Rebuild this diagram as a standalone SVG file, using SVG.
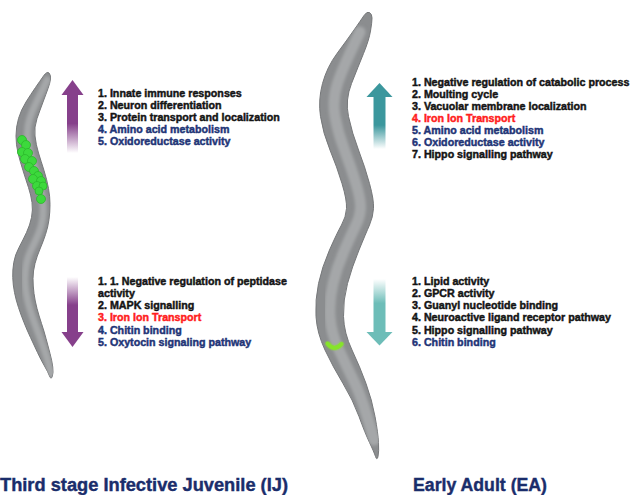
<svg xmlns="http://www.w3.org/2000/svg" width="632" height="495" viewBox="0 0 632 495">
  <style>
    .item { font-family: "Liberation Sans", Arial, sans-serif; font-weight: bold; font-size: 10.7px; stroke-width: 0.45; }
    .k { fill: #141414; stroke: #141414; }
    .b { fill: #1f3577; stroke: #1f3577; }
    .r { fill: #ff1e1e; stroke: #ff1e1e; }
    .stage { font-family: "Liberation Sans", Arial, sans-serif; font-weight: bold; font-size: 18px; fill: #1a2d6b; stroke: #1a2d6b; stroke-width: 0.4; }
    .body { fill: #8b8d8f; stroke: #76787a; stroke-width: 1; }
    .band { fill: none; stroke: #a5a7a9; stroke-linecap: round; }
    .cell { fill: #3cd93c; stroke: #2bb82b; stroke-width: 0.8; }
  </style>
  <defs>
    <linearGradient id="fadeUpPurple" x1="0" y1="0" x2="0" y2="1">
      <stop offset="0" stop-color="#86408b"/>
      <stop offset="0.5" stop-color="#86408b"/>
      <stop offset="1" stop-color="#86408b" stop-opacity="0"/>
    </linearGradient>
    <linearGradient id="fadeDownPurple" x1="0" y1="1" x2="0" y2="0">
      <stop offset="0" stop-color="#86408b"/>
      <stop offset="0.5" stop-color="#86408b"/>
      <stop offset="1" stop-color="#86408b" stop-opacity="0"/>
    </linearGradient>
    <linearGradient id="fadeUpTeal" x1="0" y1="0" x2="0" y2="1">
      <stop offset="0" stop-color="#3b979d"/>
      <stop offset="0.55" stop-color="#3b979d"/>
      <stop offset="1" stop-color="#3b979d" stop-opacity="0"/>
    </linearGradient>
    <linearGradient id="fadeDownTeal" x1="0" y1="1" x2="0" y2="0">
      <stop offset="0" stop-color="#6dbdb8"/>
      <stop offset="0.55" stop-color="#6dbdb8"/>
      <stop offset="1" stop-color="#6dbdb8" stop-opacity="0"/>
    </linearGradient>
    <path id="ijOutline" d="M 43.5,76 Q 47,71 49,73 Q 51,75 50.5,79 Q 50,83 48,88.5 Q 46,94 43,102 Q 40,110 37,118.5 Q 34,127 35,136 Q 36,145 38.5,153 Q 41,161 44,170.5 Q 47,180 48.5,188.5 Q 50,197 50,204.5 Q 50,212 49,219.5 Q 48,227 45.5,234.5 Q 43,242 40,249 Q 37,256 35,263.5 Q 33,271 33,278.5 Q 33,286 34,293.5 Q 35,301 37,308.5 Q 39,316 41.5,323.5 Q 44,331 46,338.5 Q 48,346 50,353.5 Q 52,361 52.75,367 Q 53.5,373 52.25,376.5 Q 51,380 49.5,376 Q 48,372 44.5,366 Q 41,360 37.5,352.5 Q 34,345 30.5,337.5 Q 27,330 24,322.5 Q 21,315 18.5,307.5 Q 16,300 14.5,292.5 Q 13,285 12.75,277.5 Q 12.5,270 13.75,262.5 Q 15,255 19,247.5 Q 23,240 26.5,232.5 Q 30,225 31.5,217.5 Q 33,210 32,202.5 Q 31,195 28.5,187.5 Q 26,180 23,170.5 Q 20,161 18,153 Q 16,145 16,136 Q 16,127 18.5,118.5 Q 21,110 26,102 Q 31,94 35.5,87.5 Q 40,81 43.5,76 Z"/>
    <path id="eaOutline" d="M 364,15.5 Q 367,11 369.5,12.5 Q 372,14 372,18 Q 372,22 370.5,31 Q 369,40 363.5,53.5 Q 358,67 351.5,83.5 Q 345,100 348.5,116.5 Q 352,133 358.5,150 Q 365,167 369.5,183.5 Q 374,200 373.5,208.5 Q 373,217 369.5,225 Q 366,233 359,250 Q 352,267 347.5,283.5 Q 343,300 343.5,316.5 Q 344,333 352,350 Q 360,367 366,383.5 Q 372,400 375,416.5 Q 378,433 378.5,442.5 Q 379,452 378,456.5 Q 377,461 375.5,456.5 Q 374,452 369.5,442.5 Q 365,433 359,416.5 Q 353,400 343,383.5 Q 333,367 325,350 Q 317,333 316,316.5 Q 315,300 318.5,283.5 Q 322,267 329.5,250 Q 337,233 341.5,225 Q 346,217 346.5,208.5 Q 347,200 342,183.5 Q 337,167 330,150 Q 323,133 320.5,116.5 Q 318,100 322.5,83.5 Q 327,67 337,53.5 Q 347,40 354,30 Q 361,20 364,15.5 Z"/>
    <clipPath id="ijClip"><use href="#ijOutline"/></clipPath>
    <clipPath id="eaClip"><use href="#eaOutline"/></clipPath>
    <filter id="glow" x="-50%" y="-50%" width="200%" height="200%">
      <feGaussianBlur stdDeviation="1.2" result="b"/>
      <feMerge><feMergeNode in="b"/><feMergeNode in="SourceGraphic"/></feMerge>
    </filter>
    <filter id="soft"><feGaussianBlur stdDeviation="1.5"/></filter>
  </defs>

  <rect width="632" height="495" fill="#ffffff"/>

  <!-- IJ larva -->
  <g id="ij-worm">
    <use href="#ijOutline" class="body"/>
    <g clip-path="url(#ijClip)">
      <path class="band" stroke-width="7" filter="url(#soft)" d="M 47,80 Q 40,95 36.25,102.5 Q 32.5,110 29.75,118.5 Q 27,127 27.5,136 Q 28,145 30.25,153 Q 32.5,161 35.5,170.5 Q 38.5,180 40.5,188.5 Q 42.5,197 43,204.5 Q 43.5,212 42.5,219.5 Q 41.5,227 38.25,234.5 Q 35,242 31.5,249 Q 28,256 26.5,263.5 Q 25,271 25,278.5 Q 25,286 26.25,293.5 Q 27.5,301 29.75,308.5 Q 32,316 34.75,323.5 Q 37.5,331 40.25,338.5 Q 43,346 45.5,353.5 Q 48,361 51,374"/>
    </g>
    <g id="ij-cells">
      <circle class="cell" cx="22" cy="140" r="4.5"/>
      <circle class="cell" cx="26" cy="145" r="4.5"/>
      <circle class="cell" cx="22" cy="152" r="4.5"/>
      <circle class="cell" cx="28" cy="153" r="4.5"/>
      <circle class="cell" cx="25" cy="159" r="4.5"/>
      <circle class="cell" cx="32" cy="161" r="4.5"/>
      <circle class="cell" cx="29" cy="167" r="4.5"/>
      <circle class="cell" cx="34" cy="171" r="4.5"/>
      <circle class="cell" cx="38" cy="176" r="4.5"/>
      <circle class="cell" cx="33" cy="179" r="4.5"/>
      <circle class="cell" cx="41" cy="181" r="4.5"/>
      <circle class="cell" cx="37" cy="186" r="4.5"/>
      <circle class="cell" cx="43" cy="186" r="4"/>
      <circle class="cell" cx="39" cy="191" r="4"/>
      <circle class="cell" cx="41" cy="199" r="4.5"/>
    </g>
  </g>

  <!-- early adult -->
  <g id="ea-worm">
    <use href="#eaOutline" class="body"/>
    <g clip-path="url(#eaClip)">
      <path class="band" stroke-width="11" filter="url(#soft)" d="M 360,32 Q 343,67 337.5,83.5 Q 332,100 335,116.5 Q 338,133 344.5,150 Q 351,167 356,183.5 Q 361,200 360.5,208.5 Q 360,217 356,225 Q 352,233 344.5,250 Q 337,267 333,283.5 Q 329,300 330,316.5 Q 331,333 339,350 Q 347,367 355,383.5 Q 363,400 374,440"/>
    </g>
    <path d="M 327.5,343.5 Q 334,352 341.5,344" fill="none" stroke="#86e32a" stroke-width="4" stroke-linecap="round" filter="url(#glow)"/>
  </g>

  <!-- expression arrows -->
  <g id="arrows">
    <g id="ij-up">
      <rect x="67" y="94" width="11" height="59" fill="url(#fadeUpPurple)"/>
      <polygon points="61.5,95 72.5,80 83.5,95" fill="#86408b"/>
    </g>
    <g id="ij-down">
      <rect x="67" y="277" width="11" height="56" fill="url(#fadeDownPurple)"/>
      <polygon points="61.5,332 83.5,332 72.5,347" fill="#86408b"/>
    </g>
    <g id="ea-up">
      <rect x="373.5" y="96" width="12" height="53" fill="url(#fadeUpTeal)"/>
      <polygon points="366.5,97 379.5,83 392.5,97" fill="#3b979d"/>
    </g>
    <g id="ea-down">
      <rect x="373.5" y="279" width="12" height="54" fill="url(#fadeDownTeal)"/>
      <polygon points="366.5,332 392.5,332 379.5,345.5" fill="#6dbdb8"/>
    </g>
  </g>

  <!-- enriched terms, IJ up -->
  <g id="ij-up-terms" class="item">
    <text x="98" y="96.5" class="k">1. Innate immune responses</text>
    <text x="98" y="108.7" class="k">2. Neuron differentiation</text>
    <text x="98" y="120.9" class="k">3. Protein transport and localization</text>
    <text x="98" y="133.1" class="b">4. Amino acid metabolism</text>
    <text x="98" y="145.3" class="b">5. Oxidoreductase activity</text>
  </g>

  <!-- enriched terms, IJ down -->
  <g id="ij-down-terms" class="item">
    <text x="98" y="284.5" class="k">1. 1. Negative regulation of peptidase</text>
    <text x="98" y="296.5" class="k">activity</text>
    <text x="98" y="308.7" class="k">2. MAPK signalling</text>
    <text x="98" y="320.9" class="r">3. Iron Ion Transport</text>
    <text x="98" y="333.5" class="b">4. Chitin binding</text>
    <text x="98" y="345.7" class="b">5. Oxytocin signaling pathway</text>
  </g>

  <!-- enriched terms, EA up -->
  <g id="ea-up-terms" class="item">
    <text x="412" y="85.5" class="k">1. Negative regulation of catabolic process</text>
    <text x="412" y="97.5" class="k">2. Moulting cycle</text>
    <text x="412" y="109.5" class="k">3. Vacuolar membrane localization</text>
    <text x="412" y="121.5" class="r">4. Iron Ion Transport</text>
    <text x="412" y="134" class="b">5. Amino acid metabolism</text>
    <text x="412" y="146" class="b">6. Oxidoreductase activity</text>
    <text x="412" y="158" class="k">7. Hippo signalling pathway</text>
  </g>

  <!-- enriched terms, EA down -->
  <g id="ea-down-terms" class="item">
    <text x="412" y="284.5" class="k">1. Lipid activity</text>
    <text x="412" y="296.5" class="k">2. GPCR activity</text>
    <text x="412" y="308.5" class="k">3. Guanyl nucleotide binding</text>
    <text x="412" y="321" class="k">4. Neuroactive ligand receptor pathway</text>
    <text x="412" y="333.5" class="k">5. Hippo signalling pathway</text>
    <text x="412" y="345.5" class="b">6. Chitin binding</text>
  </g>

  <!-- stage captions -->
  <g id="captions">
    <text class="stage" x="0" y="491" textLength="288" lengthAdjust="spacingAndGlyphs">Third stage Infective Juvenile (IJ)</text>
    <text class="stage" x="413" y="491" textLength="134" lengthAdjust="spacingAndGlyphs">Early Adult (EA)</text>
  </g>
</svg>
